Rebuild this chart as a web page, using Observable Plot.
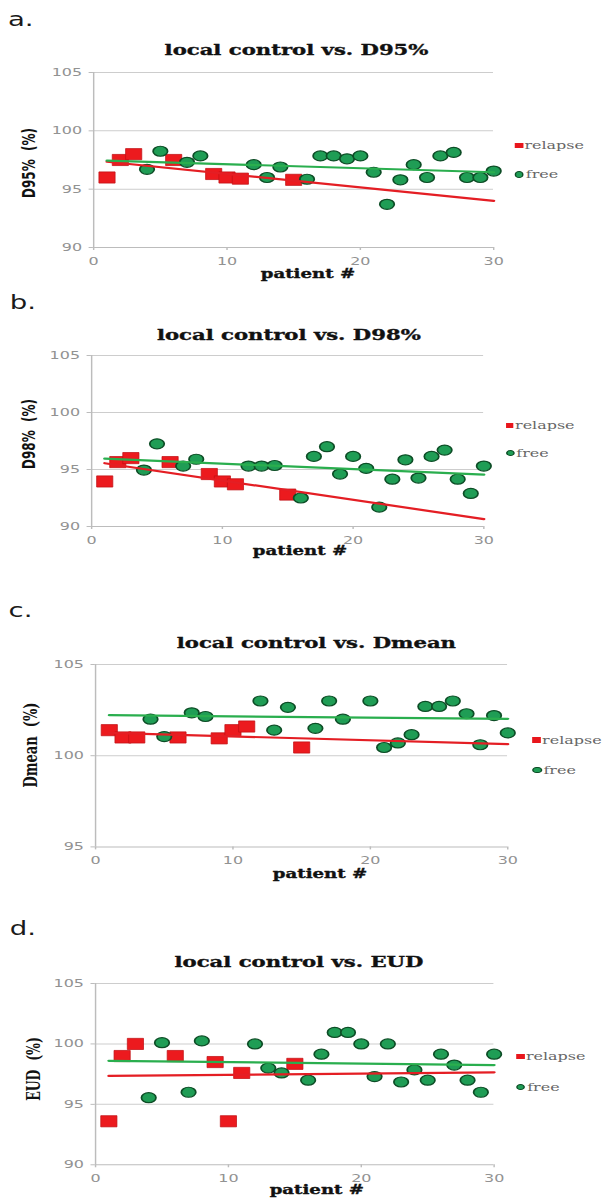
<!DOCTYPE html>
<html>
<head>
<meta charset="utf-8">
<script src="https://cdn.jsdelivr.net/npm/d3@7"></script>
<script src="https://cdn.jsdelivr.net/npm/@observablehq/plot@0.6"></script>
<style>
html, body { margin: 0; padding: 0; background: #fff; }
#page { position: relative; width: 608px; height: 1199px; overflow: hidden; background: #fff; }
#wrap { position: absolute; left: 0; top: 0; width: 419.31px; height: 1199px; transform: scaleX(1.45); transform-origin: 0 0; }
.t { position: absolute; white-space: pre; line-height: 1; }
.heavy { -webkit-text-stroke: 0.35px #111; }
.leg { position: absolute; display: flex; align-items: center; font-family: "DejaVu Serif"; font-size: 11px; color: #666; line-height: 1; white-space: pre; }
.sq { width: 5.5px; height: 5.5px; background: #e8161c; margin-right: 1.2px; }
.ci { width: 4.4px; height: 4.4px; border-radius: 50%; background: #1f9d55; border: 0.9px solid #0d4d26; margin-right: 1.2px; }
</style>
</head>
<body>
<div id="page"><div id="wrap"></div></div>
<script>
// ---------- data ----------
const xTicks = [0, 10, 20, 30];
const yTicks = [90, 95, 100, 105];
const yTicksDmean = [95, 100, 105];
const relapseX = [1, 2, 3, 6, 9, 10, 11, 15];
const freeX = [4, 5, 7, 8, 12, 13, 14, 16, 17, 18, 19, 20, 21, 22, 23, 24, 25, 26, 27, 28, 29, 30];
const freeXDmean = [4, 5, 7, 8, 12, 13, 14, 16, 17, 18, 20, 21, 22, 23, 24, 25, 26, 27, 28, 29, 30];
const trendX = [1, 30];

const d95Relapse = [96.0, 97.5, 98.0, 97.5, 96.3, 96.0, 95.9, 95.8];
const d95Free = [96.7, 98.25, 97.3, 97.85, 97.1, 96.0, 96.9, 95.85, 97.85, 97.85, 97.6, 97.85, 96.45, 93.7, 95.8, 97.1, 96.0, 97.85, 98.15, 96.0, 96.0, 96.55];
const d95RelapseTrend = [97.35, 94.0];
const d95FreeTrend = [97.45, 96.45];

const d98Relapse = [93.95, 95.65, 96.0, 95.65, 94.6, 93.95, 93.7, 92.8];
const d98Free = [94.95, 97.25, 95.3, 95.9, 95.3, 95.3, 95.35, 92.5, 96.15, 97.0, 94.6, 96.15, 95.1, 91.7, 94.15, 95.85, 94.25, 96.15, 96.7, 94.15, 92.9, 95.3];
const d98RelapseTrend = [95.55, 90.65];
const d98FreeTrend = [95.95, 94.55];

const dmeanRelapse = [101.4, 101.0, 101.0, 101.0, 100.95, 101.4, 101.6, 100.45];
const dmeanFree = [102.0, 101.05, 102.35, 102.15, 103.0, 101.4, 102.65, 101.5, 103.0, 102.0, 103.0, 100.45, 100.7, 101.15, 102.7, 102.7, 103.0, 102.3, 100.6, 102.2, 101.25];
const dmeanRelapseTrend = [101.25, 100.63];
const dmeanFreeTrend = [102.22, 102.02];

const eudRelapse = [93.6, 99.0, 100.0, 99.0, 98.5, 93.6, 97.6, 98.35];
const eudFree = [95.55, 100.1, 96.0, 100.25, 100.0, 98.0, 97.6, 97.0, 99.15, 100.95, 100.95, 100.0, 97.3, 100.0, 96.85, 97.85, 97.0, 99.15, 98.25, 97.0, 96.0, 99.15];
const eudRelapseTrend = [97.35, 97.65];
const eudFreeTrend = [98.6, 98.25];

const panelLabels = ["a.", "b.", "c.", "d."];
const titles = ["local control vs. D95%", "local control vs. D98%", "local control vs. Dmean", "local control vs. EUD"];
const yLabels = ["D95%  (%)", "D98%  (%)", "Dmean  (%)", "EUD  (%)"];
const xLabel = "patient #";
const seriesNames = ["relapse", "free"];

// ---------- layout ----------
const W = 419.31;
const wrap = document.getElementById("wrap");
const zip = (xs, ys) => xs.map((x, i) => ({x, y: ys[i]}));

function put(text, o) {
  const d = document.createElement("div");
  d.className = "t" + (o.heavy ? " heavy" : "");
  d.textContent = text;
  d.style.fontFamily = o.family;
  d.style.fontSize = o.size + "px";
  d.style.fontWeight = o.weight || "normal";
  d.style.color = o.color || "#111";
  if (o.rotate) {
    d.style.left = o.x + "px";
    d.style.top = o.y + "px";
    d.style.transform = "translate(-50%,-50%) rotate(-90deg)";
  } else {
    d.style.left = o.x + "px";
    d.style.top = (o.base - 0.846 * o.size) + "px";
    if (o.center) d.style.transform = "translateX(-50%)";
  }
  wrap.appendChild(d);
}

function legend(name, cls, x, y) {
  const d = document.createElement("div");
  d.className = "leg";
  const m = document.createElement("span");
  m.className = cls;
  d.appendChild(m);
  d.appendChild(document.createTextNode(name));
  d.style.left = (x - 3) + "px";
  d.style.top = (y - 6) + "px";
  d.style.height = "12px";
  wrap.appendChild(d);
}

const panels = [
  {x0: 64.1, x30: 340.0, yTop: 72.3, yBot: 247.3, dom: [90, 105], ticks: yTicks, rel: d95Relapse, free: d95Free, fx: freeX, rt: d95RelapseTrend, ft: d95FreeTrend,
   lab: [5.5, 26], title: [204.5, 55.7], xl: [212.4, 279], yl: [20, 162.5, "DejaVu Sans", 12], leg: [358, 145.7, 174.7]},
  {x0: 62.7, x30: 333.2, yTop: 355, yBot: 526, dom: [90, 105], ticks: yTicks, rel: d98Relapse, free: d98Free, fx: freeX, rt: d98RelapseTrend, ft: d98FreeTrend,
   lab: [6.7, 309.3], title: [199.2, 340], xl: [206.9, 556], yl: [20, 434, "DejaVu Sans", 12], leg: [351.5, 425.7, 453.3]},
  {x0: 65.4, x30: 349.7, yTop: 664.3, yBot: 846.7, dom: [95, 105], ticks: yTicksDmean, rel: dmeanRelapse, free: dmeanFree, fx: freeXDmean, rt: dmeanRelapseTrend, ft: dmeanFreeTrend,
   lab: [5.9, 616.7], title: [218.2, 648.3], xl: [220.7, 879], yl: [20.7, 744.5, "DejaVu Serif", 13], leg: [370.2, 740, 770]},
  {x0: 65.4, x30: 340.3, yTop: 982.7, yBot: 1164, dom: [90, 105], ticks: yTicks, rel: eudRelapse, free: eudFree, fx: freeX, rt: eudRelapseTrend, ft: eudFreeTrend,
   lab: [6.7, 935], title: [206.2, 967.3], xl: [218.5, 1195], yl: [24, 1068.5, "DejaVu Serif", 12.5], leg: [359, 1056.7, 1087.3]}
];

panels.forEach((p, i) => {
  const mt = 10, mb = 25;
  const h = (p.yBot - p.yTop) + mt + mb;
  const chart = Plot.plot({
    width: W,
    height: h,
    marginTop: mt,
    marginBottom: mb,
    marginLeft: p.x0,
    marginRight: W - p.x30,
    x: {domain: [0, 30], ticks: xTicks},
    y: {domain: p.dom, ticks: p.ticks},
    style: {fontFamily: "DejaVu Sans", fontSize: "11px", color: "#929292", background: "transparent", overflow: "visible"},
    marks: [
      Plot.ruleY(p.ticks.slice(1), {stroke: "#cdcdcd", strokeWidth: 1}),
      Plot.ruleY([p.dom[0]], {stroke: "#bcbcbc", strokeWidth: 1}),
      Plot.ruleX([0], {stroke: "#bcbcbc", strokeWidth: 1}),
      Plot.axisY({ticks: p.ticks, tickSize: 3, tickPadding: 5, label: null, stroke: "#bcbcbc"}),
      Plot.axisX({ticks: xTicks, tickSize: 3, tickPadding: 6.5, label: null, stroke: "#bcbcbc"}),
      Plot.dot(zip(relapseX, p.rel), {x: "x", y: "y", symbol: "square", r: 6.3, fill: "#ec1a1e", stroke: "#c01014", strokeWidth: 0.6}),
      Plot.dot(zip(p.fx, p.free), {x: "x", y: "y", symbol: "circle", r: 5.0, fill: "#1f9d55", stroke: "#0d4d26", strokeWidth: 1.2}),
      Plot.line(zip(trendX, p.rt), {x: "x", y: "y", stroke: "#e41e24", strokeWidth: 2.2}),
      Plot.line(zip(trendX, p.ft), {x: "x", y: "y", stroke: "#2aae4e", strokeWidth: 2.2})
    ]
  });
  chart.style.position = "absolute";
  chart.style.left = "0px";
  chart.style.top = (p.yTop - mt) + "px";
  wrap.appendChild(chart);

  put(panelLabels[i], {x: p.lab[0], base: p.lab[1], family: "DejaVu Sans", size: 19, color: "#1a1a1a"});
  put(titles[i], {x: p.title[0], base: p.title[1], family: "DejaVu Serif", size: 14.6, weight: "bold", color: "#111", center: true, heavy: true});
  put(xLabel, {x: p.xl[0], base: p.xl[1], family: "DejaVu Serif", size: 12.5, weight: "bold", color: "#111", center: true, heavy: true});
  put(yLabels[i], {x: p.yl[0], y: p.yl[1], family: p.yl[2], size: p.yl[3], weight: "bold", color: "#111", rotate: true});
  legend(seriesNames[0], "sq", p.leg[0], p.leg[1]);
  legend(seriesNames[1], "ci", p.leg[0], p.leg[2]);
});
</script>
</body>
</html>
